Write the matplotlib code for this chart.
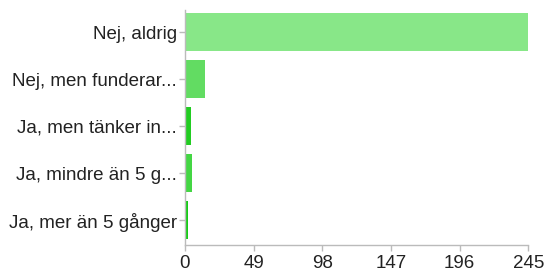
import matplotlib
matplotlib.use("Agg")
import matplotlib.pyplot as plt

# answers, top to bottom
labels = ["Nej, aldrig", "Nej, men funderar...", "Ja, men tänker in...",
          "Ja, mindre än 5 g...", "Ja, mer än 5 gånger"]
counts = [245, 14, 4, 5, 2]
colors = ["#88e788", "#62dc62", "#22cc22", "#44d644", "#16cc16"]
ticks = [0, 49, 98, 147, 196, 245]

plt.rcParams["font.family"] = ["Liberation Sans", "DejaVu Sans"]

fig = plt.figure(figsize=(5.44, 2.73), dpi=100)
ax = fig.add_axes([0.340, 0.1026, 0.631, 0.860])

ypos = list(range(len(labels)))
ax.barh(ypos, counts, height=0.8, color=colors, edgecolor="none")

ax.set_ylim(4.53, -0.47)
ax.set_xlim(0, 245)
ax.set_yticks(ypos)
ax.set_yticklabels(labels, fontsize=13.5, color="#222222")
ax.set_xticks(ticks)
ax.set_xticklabels([str(t) for t in ticks], fontsize=13.5, color="#222222")

for side in ["top", "right"]:
    ax.spines[side].set_visible(False)
for side in ["left", "bottom"]:
    ax.spines[side].set_color("#bbbbbb")
    ax.spines[side].set_linewidth(1)
ax.tick_params(axis="y", color="#bbbbbb", length=4, width=1, pad=2)
ax.tick_params(axis="x", color="#bbbbbb", length=4, width=1, pad=3)

fig.savefig("out.png", dpi=100)
